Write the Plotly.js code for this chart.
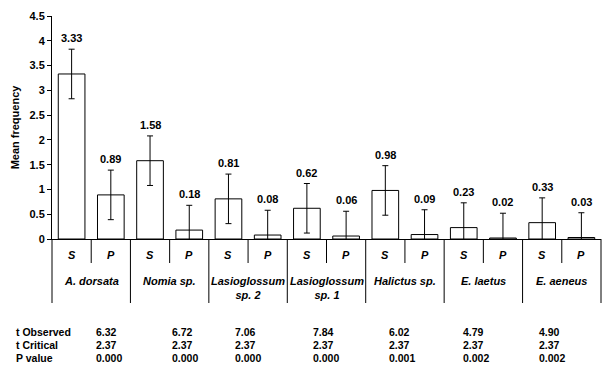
<!DOCTYPE html>
<html><head><meta charset="utf-8">
<script src="https://cdn.plot.ly/plotly-3.0.1.min.js"></script>
<style>body{margin:0;background:#fff}</style></head>
<body><div id="chart" style="width:602px;height:367px"></div>
<script>
// ---- data ----
const species = ['A. dorsata', 'Nomia sp.', 'Lasioglossum<br>sp. 2', 'Lasioglossum<br>sp. 1', 'Halictus sp.', 'E. laetus', 'E. aeneus'];
const seasons = ['S', 'P'];
const sValues = [3.33, 1.58, 0.81, 0.62, 0.98, 0.23, 0.33];
const pValues = [0.89, 0.18, 0.08, 0.06, 0.09, 0.02, 0.03];
const sErrors = [0.5, 0.5, 0.5, 0.5, 0.5, 0.5, 0.5];
const pErrors = [0.5, 0.5, 0.5, 0.5, 0.5, 0.5, 0.5];
const rowLabels = ['t Observed', 't Critical', 'P value'];
const tObserved = ['6.32', '6.72', '7.06', '7.84', '6.02', '4.79', '4.90'];
const tCritical = ['2.37', '2.37', '2.37', '2.37', '2.37', '2.37', '2.37'];
const pValueText = ['0.000', '0.000', '0.000', '0.000', '0.001', '0.002', '0.002'];
const yTicks = [0, 0.5, 1, 1.5, 2, 2.5, 3, 3.5, 4, 4.5];

// ---- layout constants (pixels) ----
const W = 602, H = 367;
const L = 52, R = 1, T = 16, B = 128;
const PW = W - L - R, PH = H - T - B;
const px2x = p => (p - L) / PW;
const py2y = p => (T + PH - p) / PH;
const tableCols = [94, 170, 233, 311, 387, 461, 537];
const tableRows = [332, 345, 358];
const rowLabelX = 14;

// ---- build interleaved series ----
const xs = [], ys = [], errs = [], tickLabs = [];
species.forEach((sp, g) => {
  [sValues[g], pValues[g]].forEach((v, k) => {
    xs.push(xs.length);
    ys.push(v);
    errs.push(k === 0 ? sErrors[g] : pErrors[g]);
    tickLabs.push(seasons[k]);
  });
});
const n = xs.length;

const boldFont = {family: 'Liberation Sans, Arial, sans-serif', size: 11, color: '#000', weight: 'bold'};

const bars = {
  type: 'bar', x: xs, y: ys, width: 0.68,
  marker: {color: '#fff', line: {color: '#000', width: 1}},
  error_y: {type: 'data', array: errs, visible: true, color: '#000', thickness: 1, width: 3},
  hoverinfo: 'none', showlegend: false
};

const shapes = [];
const annotations = [];
// value labels above error bars
xs.forEach((x, i) => {
  annotations.push({xref: 'x', yref: 'y', x: x, y: ys[i] + errs[i], yshift: 11,
    text: '<b>' + ys[i].toFixed(2) + '</b>', showarrow: false, font: boldFont,
    xanchor: 'center', yanchor: 'middle'});
});
// boundary dividers below axis
for (let b = 0; b <= n; b++) {
  const long = b % 2 === 0;
  shapes.push({type: 'line', xref: 'paper', yref: 'paper',
    x0: b / n, x1: b / n, y0: 0, y1: py2y(long ? 303 : 263),
    line: {color: '#000', width: 1}});
}
// S / P labels
xs.forEach((x, i) => {
  annotations.push({xref: 'paper', yref: 'paper', x: (x + 0.5) / n, y: py2y(255),
    text: '<b><i>' + tickLabs[i] + '</i></b>', showarrow: false, font: boldFont,
    xanchor: 'center', yanchor: 'middle'});
});
// species labels
species.forEach((sp, g) => {
  annotations.push({xref: 'paper', yref: 'paper', x: (2 * g + 1) / n, y: py2y(273),
    text: '<b><i>' + sp + '</i></b>', showarrow: false, font: boldFont,
    xanchor: 'center', yanchor: 'top'});
});
// table
const tableFont = {family: 'Liberation Sans Narrow, Arial Narrow, Liberation Sans, sans-serif', size: 10.5, color: '#000', weight: 'bold'};
const rowsData = [tObserved, tCritical, pValueText];
rowLabels.forEach((lab, r) => {
  annotations.push({xref: 'paper', yref: 'paper', x: px2x(rowLabelX), y: py2y(tableRows[r]),
    text: '<b>' + lab + '</b>', showarrow: false, font: tableFont, xanchor: 'left', yanchor: 'middle'});
  rowsData[r].forEach((v, g) => {
    annotations.push({xref: 'paper', yref: 'paper', x: px2x(tableCols[g]), y: py2y(tableRows[r]),
      text: '<b>' + v + '</b>', showarrow: false, font: tableFont, xanchor: 'left', yanchor: 'middle'});
  });
});

const layout = {
  width: W, height: H,
  margin: {l: L, r: R, t: T, b: B, pad: 0},
  paper_bgcolor: '#fff', plot_bgcolor: '#fff',
  showlegend: false,
  xaxis: {range: [-0.5, n - 0.5], showticklabels: false, ticks: '', showgrid: false, zeroline: false,
    showline: true, linecolor: '#000', linewidth: 1, fixedrange: true},
  yaxis: {range: [0, 4.5], tickvals: yTicks, ticktext: yTicks.map(String), ticks: 'outside', ticklen: 4,
    tickcolor: '#000', tickwidth: 1, showline: true, linecolor: '#000', linewidth: 1,
    showgrid: false, zeroline: false, tickfont: boldFont,
    title: {text: 'Mean frequency', font: boldFont, standoff: 7}, fixedrange: true},
  shapes: shapes, annotations: annotations
};

Plotly.newPlot('chart', [bars], layout, {displayModeBar: false, staticPlot: true});
</script></body></html>
